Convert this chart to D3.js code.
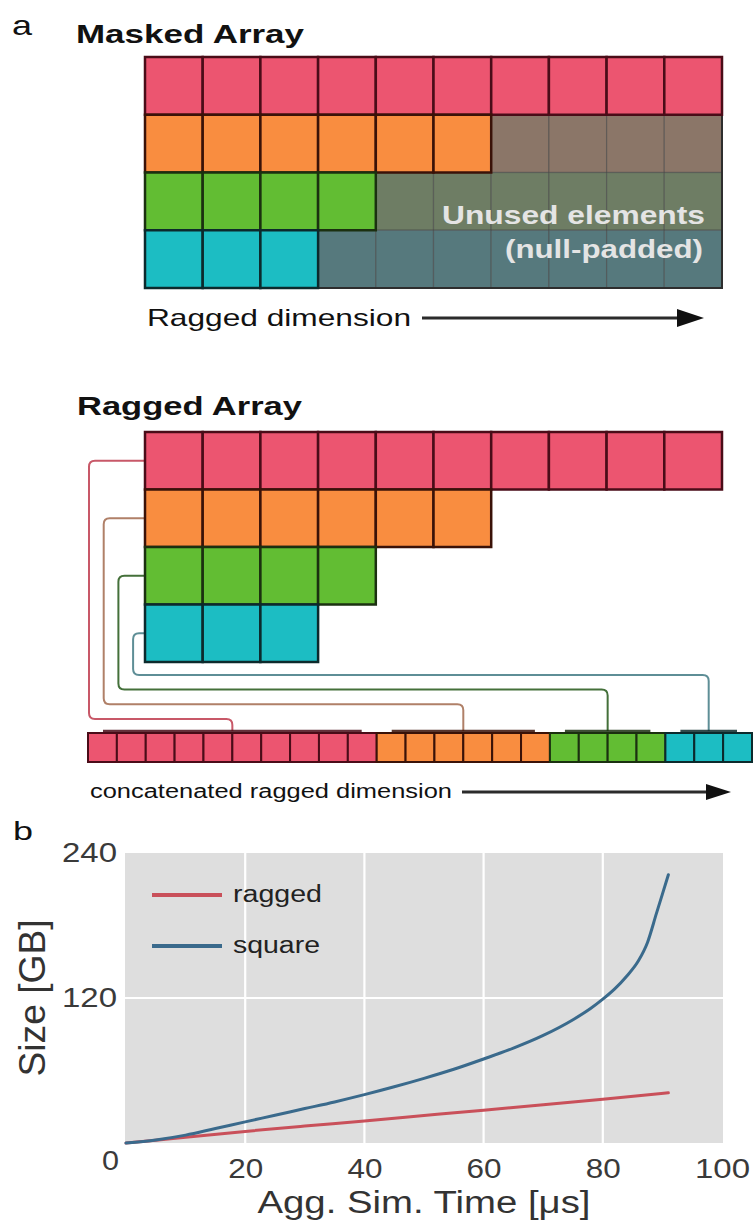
<!DOCTYPE html>
<html>
<head>
<meta charset="utf-8">
<script src="https://cdn.jsdelivr.net/npm/d3@7"></script>
<style>
  body { margin: 0; background: #fff; }
  svg { display: block; }
  text { font-family: "Liberation Sans", Arial, Helvetica, sans-serif; }
</style>
</head>
<body>
<svg id="fig" width="755" height="1226"></svg>
<script>
// ---------- panel a: row lengths of the ragged data ----------
const rowLengths   = [10, 6, 4, 3];
const maxLength    = 10;
const rowColors    = ["#ec5570", "#f98d40", "#62bd33", "#1cbdc3"];
const paddedColors = ["#8a7566", "#8b7668", "#6e7d64", "#56797d"];
const rowEdges     = ["#4a0c18", "#3a1208", "#1b3010", "#0c2a2c"];
const linkColors   = ["#c85868", "#b08068", "#44703a", "#5e8e96"];

// ---------- panel b: storage size vs aggregate simulation time ----------
const raggedTime = [0, 5, 10, 20, 30, 40, 50, 60, 70, 80, 91];
const raggedSize = [0, 2.3, 4.8, 9.6, 14, 18.2, 22.7, 27.2, 31.6, 36.2, 41.5];
const squareTime = [0, 5, 10, 15, 20, 25, 30, 35, 40, 45, 50, 55, 60, 65, 70, 75, 78, 80, 82, 84, 86, 87.5, 89, 91];
const squareSize = [0, 2.5, 6.5, 12, 17.5, 23, 28.5, 34, 40, 46.5, 53.5, 61, 69.5, 78.5, 89, 102, 111.5, 119, 127.5, 138, 151, 166, 190, 222];
const seriesNames  = ["ragged", "square"];
const seriesColors = ["#c9505a", "#3a6a8c"];
const xTicks = [0, 20, 40, 60, 80, 100];
const yTicks = [120, 240];

const svg = d3.select("#fig");
const FONT_W = { 1: 17, 2: 35, 3: 55 };

function label(sel, x, y, str, opts) {
  const t = sel.append("text").attr("x", x).attr("y", y).text(str)
    .attr("font-size", opts.size).attr("fill", opts.fill || "#111")
    .attr("font-weight", opts.bold ? "bold" : "normal");
  if (opts.len) t.attr("textLength", opts.len).attr("lengthAdjust", "spacingAndGlyphs");
  if (opts.anchor) t.attr("text-anchor", opts.anchor);
  return t;
}

// rounded orthogonal connector through a list of points
function elbow(pts, r) {
  const p = d3.path();
  p.moveTo(pts[0][0], pts[0][1]);
  for (let i = 1; i < pts.length - 1; i++) {
    const [x0, y0] = pts[i - 1], [x1, y1] = pts[i], [x2, y2] = pts[i + 1];
    const d1 = Math.hypot(x1 - x0, y1 - y0), d2 = Math.hypot(x2 - x1, y2 - y1);
    const r1 = Math.min(r, d1 / 2), r2 = Math.min(r, d2 / 2);
    p.lineTo(x1 - (x1 - x0) / d1 * r1, y1 - (y1 - y0) / d1 * r1);
    p.quadraticCurveTo(x1, y1, x1 + (x2 - x1) / d2 * r2, y1 + (y2 - y1) / d2 * r2);
  }
  const last = pts[pts.length - 1];
  p.lineTo(last[0], last[1]);
  return p.toString();
}

function arrow(g, x0, x1, y, head, half) {
  g.append("line").attr("x1", x0).attr("x2", x1 - head + 2).attr("y1", y).attr("y2", y)
    .attr("stroke", "#2b2b2b").attr("stroke-width", 3);
  g.append("path")
    .attr("d", `M${x1 - head},${y - half}L${x1},${y}L${x1 - head},${y + half}Z`)
    .attr("fill", "#111");
}

// ================= panel a =================
const a = svg.append("g");
label(a, 12, 35, "a", { size: 28, len: 20 });
label(a, 76, 43, "Masked Array", { size: 26, bold: true, len: 228 });

const gx = d3.scaleLinear().domain([0, maxLength]).range([145, 722]);
const rows = d3.range(rowLengths.length);
const gyMasked = d3.scaleBand().domain(rows).range([57, 288]);
const gyRagged = d3.scaleBand().domain(rows).range([432, 662]);

const maskedCells = [];
rowLengths.forEach((len, r) => d3.range(maxLength).forEach(c => maskedCells.push({ r, c, used: c < len })));

// padded (unused) slots
a.append("g").selectAll("rect").data(maskedCells.filter(d => !d.used)).join("rect")
  .attr("x", d => gx(d.c)).attr("y", d => gyMasked(d.r))
  .attr("width", gx(1) - gx(0)).attr("height", gyMasked.bandwidth())
  .attr("fill", d => paddedColors[d.r])
  .attr("stroke", "#474747").attr("stroke-opacity", 0.55).attr("stroke-width", 1.2);

a.append("rect").attr("x", gx(0)).attr("y", gyMasked.range()[0])
  .attr("width", gx(maxLength) - gx(0)).attr("height", gyMasked.range()[1] - gyMasked.range()[0])
  .attr("fill", "none").attr("stroke", "#2e2e2e").attr("stroke-width", 2);

// filled slots
a.append("g").selectAll("rect").data(maskedCells.filter(d => d.used)).join("rect")
  .attr("x", d => gx(d.c)).attr("y", d => gyMasked(d.r))
  .attr("width", gx(1) - gx(0)).attr("height", gyMasked.bandwidth())
  .attr("fill", d => rowColors[d.r])
  .attr("stroke", d => rowEdges[d.r]).attr("stroke-width", 2.5);

label(a, 442, 224, "Unused elements", { size: 25, bold: true, len: 263, fill: "#e4e4e4" });
label(a, 505, 258, "(null-padded)", { size: 25, bold: true, len: 198, fill: "#e4e4e4" });

label(a, 147, 326, "Ragged dimension", { size: 24, len: 264 });
arrow(a, 422, 704, 318, 27, 9);

// ---- ragged layout ----
label(a, 77, 415, "Ragged Array", { size: 26, bold: true, len: 225 });

const raggedCells = [];
rowLengths.forEach((len, r) => d3.range(len).forEach(c => raggedCells.push({ r, c })));

// concatenated storage
const total = d3.sum(rowLengths);
const offsets = d3.cumsum([0, ...rowLengths]);
const cx = d3.scaleLinear().domain([0, total]).range([88, 752]);
const barTop = 733, barBottom = 762;

a.append("g").selectAll("rect").data(raggedCells).join("rect")
  .attr("x", d => cx(offsets[d.r] + d.c)).attr("y", barTop)
  .attr("width", cx(1) - cx(0)).attr("height", barBottom - barTop)
  .attr("fill", d => rowColors[d.r])
  .attr("stroke", d => rowEdges[d.r]).attr("stroke-width", 2);

// connectors from each row to its segment in the flat buffer
const linkG = a.append("g").attr("fill", "none");
rows.forEach(r => {
  const yRow = gyRagged(r) + gyRagged.bandwidth() / 2;
  const xLeft = 89 + 14.7 * r;
  const yLow = 719 - 14.7 * r;
  const xSeg = cx(offsets[r] + rowLengths[r] / 2);
  linkG.append("path")
    .attr("d", elbow([[gx(0), yRow], [xLeft, yRow], [xLeft, yLow], [xSeg, yLow], [xSeg, barTop - 2]], 6))
    .attr("stroke", linkColors[r]).attr("stroke-width", 2);
  // bracket along the top of the segment
  linkG.append("line")
    .attr("x1", cx(offsets[r]) + 15).attr("x2", cx(offsets[r] + rowLengths[r]) - 15)
    .attr("y1", barTop - 2).attr("y2", barTop - 2)
    .attr("stroke", rowEdges[r]).attr("stroke-opacity", 0.85).attr("stroke-width", 2.5);
});

a.append("g").selectAll("rect").data(raggedCells).join("rect")
  .attr("x", d => gx(d.c)).attr("y", d => gyRagged(d.r))
  .attr("width", gx(1) - gx(0)).attr("height", gyRagged.bandwidth())
  .attr("fill", d => rowColors[d.r])
  .attr("stroke", d => rowEdges[d.r]).attr("stroke-width", 2.5);

label(a, 90, 798, "concatenated ragged dimension", { size: 20, len: 362 });
arrow(a, 462, 731, 792, 25, 8);

// ================= panel b =================
const b = svg.append("g");
label(b, 13, 840, "b", { size: 25, len: 20 });

const plot = { left: 125, right: 723, top: 853, bottom: 1143 };
const x = d3.scaleLinear().domain([0, 100]).range([126, 722]);
const y = d3.scaleLinear().domain([0, 240]).range([plot.bottom, plot.top]);

b.append("rect").attr("x", plot.left).attr("y", plot.top)
  .attr("width", plot.right - plot.left).attr("height", plot.bottom - plot.top)
  .attr("fill", "#dedede");

b.append("g").selectAll("line").data(xTicks.filter(t => t > 0 && t < 100)).join("line")
  .attr("x1", d => x(d)).attr("x2", d => x(d)).attr("y1", plot.top).attr("y2", plot.bottom)
  .attr("stroke", "#fff").attr("stroke-width", 2.2);
b.append("g").selectAll("line").data(yTicks.filter(t => t < 240)).join("line")
  .attr("y1", d => y(d)).attr("y2", d => y(d)).attr("x1", plot.left).attr("x2", plot.right)
  .attr("stroke", "#fff").attr("stroke-width", 2.2);

const series = [
  raggedTime.map((t, i) => [t, raggedSize[i]]),
  squareTime.map((t, i) => [t, squareSize[i]])
];
const line = d3.line().x(d => x(d[0])).y(d => y(d[1])).curve(d3.curveMonotoneX);
b.append("g").selectAll("path").data(series).join("path")
  .attr("d", line).attr("fill", "none")
  .attr("stroke", (d, i) => seriesColors[i]).attr("stroke-width", 3)
  .attr("stroke-linecap", "round");

// axes
const xAxis = b.append("g").attr("transform", `translate(0,${plot.bottom})`)
  .call(d3.axisBottom(x).tickValues(xTicks).tickSize(0).tickPadding(15).tickFormat(d3.format("d")));
const yAxis = b.append("g").attr("transform", `translate(${plot.left - 8},0)`)
  .call(d3.axisLeft(y).tickValues(yTicks).tickSize(0).tickPadding(0).tickFormat(d3.format("d")));
[xAxis, yAxis].forEach(g => {
  g.select(".domain").remove();
  g.selectAll("text").attr("font-size", 28).attr("fill", "#3a3a3a")
    .attr("font-family", "'Liberation Sans', Arial, sans-serif")
    .attr("textLength", d => FONT_W[String(d).length]).attr("lengthAdjust", "spacingAndGlyphs");
});
xAxis.selectAll("text").filter(d => d === 0).attr("dx", -16).attr("dy", "0.42em");

label(b, 424, 1213, "Agg. Sim. Time [μs]", { size: 31, len: 333, anchor: "middle", fill: "#333" });
b.append("text").attr("transform", "translate(45,998) scale(1.2,1) rotate(-90)")
  .attr("text-anchor", "middle").attr("font-size", 31).attr("fill", "#333")
  .attr("textLength", 157).attr("lengthAdjust", "spacingAndGlyphs")
  .text("Size [GB]");

// legend
const legend = b.append("g");
seriesNames.forEach((name, i) => {
  const ly = 895 + 51 * i;
  legend.append("line").attr("x1", 152).attr("x2", 222).attr("y1", ly).attr("y2", ly)
    .attr("stroke", seriesColors[i]).attr("stroke-width", 4);
  label(legend, 233, ly + 7, name, { size: 23, len: i === 0 ? 89 : 87, fill: "#222" });
});
</script>
</body>
</html>
